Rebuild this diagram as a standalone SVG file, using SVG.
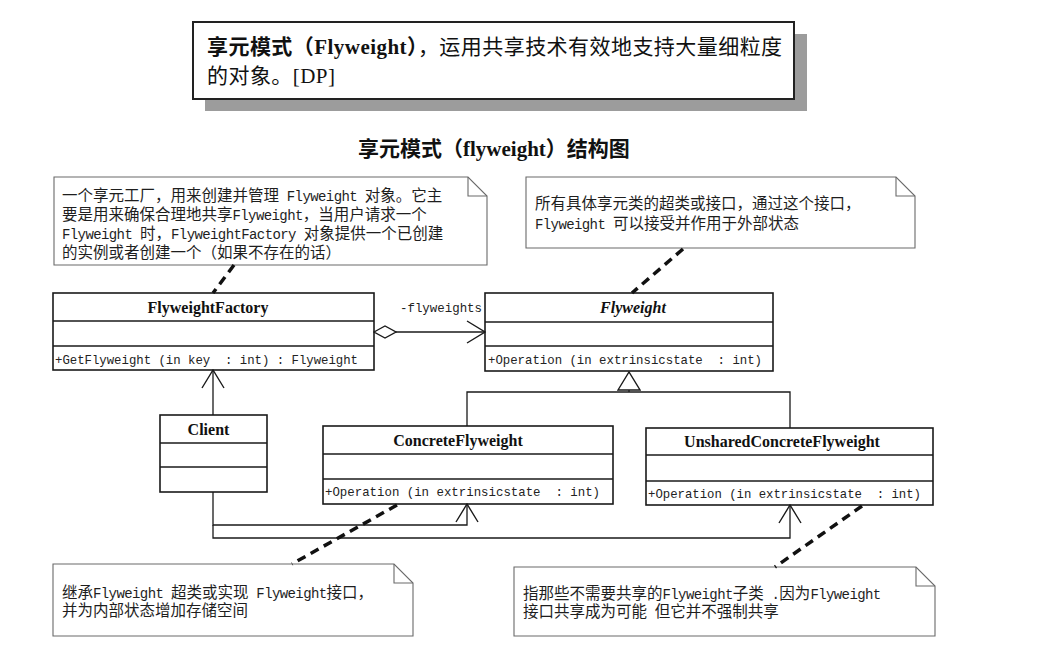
<svg xmlns="http://www.w3.org/2000/svg" width="1038" height="650" viewBox="0 0 1038 650">
  <style>
    .box{fill:#fff;stroke:#1a1a1a;stroke-width:1.6}
    .sep{stroke:#1a1a1a;stroke-width:1.4}
    .note{fill:#fff;stroke:#6a6a6a;stroke-width:1.1}
    .fold{fill:none;stroke:#6a6a6a;stroke-width:1.1}
    .name{font-family:"Liberation Serif","Noto Sans CJK SC",serif;font-size:16px;font-weight:bold;fill:#111;text-anchor:middle}
    .mem{font-family:"Liberation Mono","Noto Sans CJK SC",monospace;font-size:13.5px;fill:#222}
    .nt{font-family:"Liberation Mono","Noto Sans CJK SC",monospace;font-size:15.5px;fill:#1e1e1e}
    .nt .m{font-size:14px;letter-spacing:-0.6px}
    .def{font-family:"Liberation Serif","Noto Sans CJK SC",serif;font-size:21px;fill:#111}
    .wire{fill:none;stroke:#1a1a1a;stroke-width:1.3}
    .dash{fill:none;stroke:#111;stroke-width:3.5;stroke-dasharray:9 6}
  </style>
  <defs>
    <marker id="vee" viewBox="0 0 20 24" refX="19" refY="12" markerWidth="20" markerHeight="24" orient="auto" markerUnits="userSpaceOnUse">
      <path d="M1,1 L19,12 L1,23" fill="none" stroke="#1a1a1a" stroke-width="1.4"/>
    </marker>
    <marker id="diamond" viewBox="0 0 24 14" refX="1" refY="7" markerWidth="24" markerHeight="14" orient="auto" markerUnits="userSpaceOnUse">
      <path d="M1,7 L12,1 L23,7 L12,13 Z" fill="#fff" stroke="#1a1a1a" stroke-width="1.4"/>
    </marker>
    <marker id="triangle" viewBox="0 0 20 24" refX="19" refY="12" markerWidth="20" markerHeight="24" orient="auto" markerUnits="userSpaceOnUse">
      <path d="M1,1 L19,12 L1,23 Z" fill="#fff" stroke="#1a1a1a" stroke-width="1.4"/>
    </marker>
  </defs>

  <rect width="1038" height="650" fill="#fff"/>

  <!-- definition box with drop shadow -->
  <g id="definition">
    <rect x="205" y="34" width="602" height="77" fill="#9c9c9c"/>
    <rect x="193" y="22" width="601" height="77" fill="#fff" stroke="#222" stroke-width="2"/>
    <text class="def" x="207" y="54" letter-spacing="0.45"><tspan font-weight="bold">享元模式（Flyweight）</tspan>，运用共享技术有效地支持大量细粒度</text>
    <text class="def" x="207" y="83" letter-spacing="0.45">的对象。[DP]</text>
  </g>

  <g id="title">
    <text class="def" x="358" y="156" font-weight="bold">享元模式（flyweight）结构图</text>
  </g>

  <!-- notes -->
  <g id="note-factory">
    <path class="note" d="M54,177 H468 L487,196 V265 H54 Z"/>
    <path class="fold" d="M468,177 V196 H487"/>
    <text class="nt" x="62" y="201">一个享元工厂，用来创建并管理<tspan class="m"> Flyweight </tspan>对象。它主</text>
    <text class="nt" x="62" y="220">要是用来确保合理地共享<tspan class="m">Flyweight</tspan>，当用户请求一个</text>
    <text class="nt" x="62" y="239"><tspan class="m">Flyweight </tspan>时，<tspan class="m">FlyweightFactory </tspan>对象提供一个已创建</text>
    <text class="nt" x="62" y="258">的实例或者创建一个（如果不存在的话）</text>
  </g>

  <g id="note-flyweight">
    <path class="note" d="M526,177 H896 L915,196 V248 H526 Z"/>
    <path class="fold" d="M896,177 V196 H915"/>
    <text class="nt" x="535" y="209">所有具体享元类的超类或接口，通过这个接口，</text>
    <text class="nt" x="535" y="229"><tspan class="m">Flyweight </tspan>可以接受并作用于外部状态</text>
  </g>

  <g id="note-concrete">
    <path class="note" d="M53,564 H394 L413,583 V636 H53 Z"/>
    <path class="fold" d="M394,564 V583 H413"/>
    <text class="nt" x="62" y="598">继承<tspan class="m">Flyweight </tspan>超类或实现<tspan class="m"> Flyweight</tspan>接口，</text>
    <text class="nt" x="62" y="616">并为内部状态增加存储空间</text>
  </g>

  <g id="note-unshared">
    <path class="note" d="M514,567 H916 L935,586 V636 H514 Z"/>
    <path class="fold" d="M916,567 V586 H935"/>
    <text class="nt" x="523" y="599">指那些不需要共享的<tspan class="m">Flyweight</tspan>子类<tspan class="m"> .</tspan>因为<tspan class="m">Flyweight</tspan></text>
    <text class="nt" x="523" y="617">接口共享成为可能<tspan class="m"> </tspan>但它并不强制共享</text>
  </g>

  <!-- classes -->
  <g id="FlyweightFactory">
    <rect class="box" x="53" y="293" width="321" height="77"/>
    <line class="sep" x1="53" y1="321" x2="374" y2="321"/>
    <line class="sep" x1="53" y1="346" x2="374" y2="346"/>
    <text class="name" x="208" y="312.5">FlyweightFactory</text>
    <text class="mem" x="55" y="363.5" xml:space="preserve" textLength="303" lengthAdjust="spacingAndGlyphs">+GetFlyweight (in key  : int) : Flyweight</text>
  </g>

  <g id="Flyweight">
    <rect class="box" x="485" y="293" width="288" height="78"/>
    <line class="sep" x1="485" y1="322" x2="773" y2="322"/>
    <line class="sep" x1="485" y1="346" x2="773" y2="346"/>
    <text class="name" x="633" y="313" font-style="italic">Flyweight</text>
    <text class="mem" x="488" y="363.5" xml:space="preserve" textLength="274" lengthAdjust="spacingAndGlyphs">+Operation (in extrinsicstate  : int)</text>
  </g>

  <g id="Client">
    <rect class="box" x="160" y="415" width="107" height="77"/>
    <line class="sep" x1="160" y1="443" x2="267" y2="443"/>
    <line class="sep" x1="160" y1="467" x2="267" y2="467"/>
    <text class="name" x="208.5" y="434.5">Client</text>
  </g>

  <g id="ConcreteFlyweight">
    <rect class="box" x="323" y="426" width="290" height="78"/>
    <line class="sep" x1="323" y1="454" x2="613" y2="454"/>
    <line class="sep" x1="323" y1="479" x2="613" y2="479"/>
    <text class="name" x="458" y="445.5">ConcreteFlyweight</text>
    <text class="mem" x="325" y="496" xml:space="preserve" textLength="275" lengthAdjust="spacingAndGlyphs">+Operation (in extrinsicstate  : int)</text>
  </g>

  <g id="UnsharedConcreteFlyweight">
    <rect class="box" x="646" y="428" width="287" height="77"/>
    <line class="sep" x1="646" y1="455" x2="933" y2="455"/>
    <line class="sep" x1="646" y1="481" x2="933" y2="481"/>
    <text class="name" x="782" y="447">UnsharedConcreteFlyweight</text>
    <text class="mem" x="648" y="497.5" xml:space="preserve" textLength="273" lengthAdjust="spacingAndGlyphs">+Operation (in extrinsicstate  : int)</text>
  </g>

  <!-- connectors -->
  <g id="connectors">
    <path class="wire" d="M374,332 H485" marker-start="url(#diamond)" marker-end="url(#vee)"/>
    <text class="mem" x="400" y="312" textLength="82" lengthAdjust="spacingAndGlyphs">-flyweights</text>
    <path class="wire" d="M467,426 V392 H790 V428"/>
    <path class="wire" d="M629,392 V372" marker-end="url(#triangle)"/>
    <path class="wire" d="M213,415 V370" marker-end="url(#vee)"/>
    <path class="wire" d="M213,492 V525 H467 V504" marker-end="url(#vee)"/>
    <path class="wire" d="M213,525 V538 H790 V505" marker-end="url(#vee)"/>
    <path class="dash" d="M234,265 L213,293"/>
    <path class="dash" d="M683,249 L632,293"/>
    <path class="dash" d="M397,505 L292,564"/>
    <path class="dash" d="M862,506 L775,567"/>
  </g>
</svg>
